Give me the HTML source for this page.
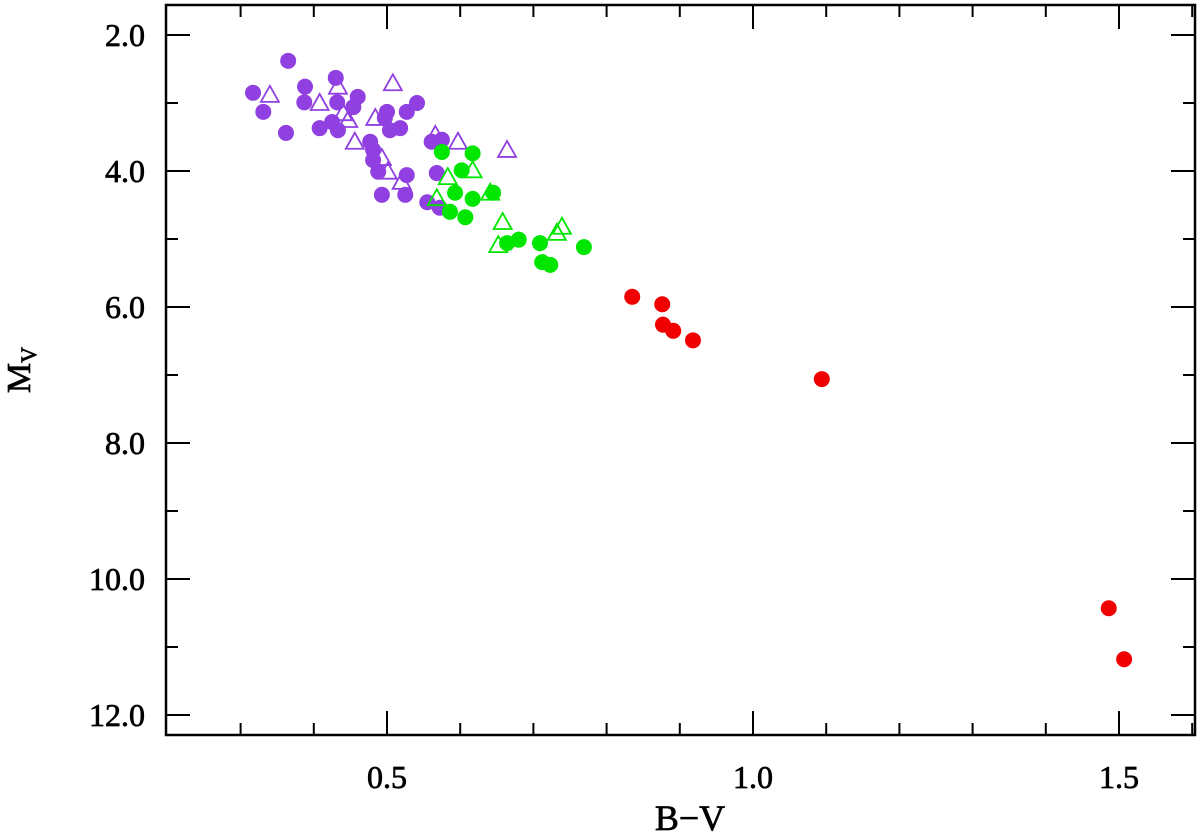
<!DOCTYPE html>
<html><head><meta charset="utf-8"><style>
html,body{margin:0;padding:0;background:#fff;}
svg{display:block;font-family:"Liberation Serif",serif;}
</style></head><body>
<svg id="chart" width="1200" height="833" viewBox="0 0 1200 833" xmlns="http://www.w3.org/2000/svg">
<g id="ticks"></g>
<g id="marks"></g>
<rect x="166" y="5" width="1029" height="730" fill="none" stroke="#000" stroke-width="2.5"/>
<g id="labels" stroke="#000" stroke-width="0.7"></g>
<text x="690" y="830" font-size="36" text-anchor="middle" stroke="#000" stroke-width="0.7">B−V</text>
<text transform="translate(30,370) rotate(-90)" font-size="34" text-anchor="middle" stroke="#000" stroke-width="0.7">M<tspan font-size="22" dy="6">V</tspan></text>
</svg>
<script>
const xTickLabels=["0.5","1.0","1.5"];
const yTickLabels=["2.0","4.0","6.0","8.0","10.0","12.0"];
const purpleCircBV=[0.365,0.317,0.331,0.362,0.388,0.387,0.430,0.432,0.460,0.454,0.408,0.425,0.433,0.500,0.497,0.527,0.541,0.504,0.518,0.477,0.481,0.481,0.488,0.527,0.493,0.525,0.555,0.561,0.575,0.568,0.572];
const purpleCircMV=[2.38,2.85,3.13,3.44,2.76,2.99,2.63,2.99,2.91,3.06,3.37,3.28,3.40,3.13,3.22,3.13,3.00,3.40,3.37,3.57,3.69,3.84,4.01,4.06,4.35,4.35,4.46,3.57,3.54,4.03,4.54];
const purpleTriBV=[0.340,0.408,0.433,0.440,0.447,0.456,0.508,0.484,0.493,0.501,0.520,0.566,0.597,0.664];
const purpleTriMV=[2.88,3.00,2.76,3.15,3.25,3.57,2.71,3.22,3.81,4.01,4.16,3.47,3.57,3.69];
const greenCircBV=[0.575,0.617,0.602,0.593,0.617,0.645,0.586,0.607,0.664,0.680,0.709,0.769,0.712,0.723];
const greenCircMV=[3.72,3.74,3.99,4.32,4.41,4.32,4.60,4.68,5.06,5.01,5.06,5.12,5.34,5.38];
const greenTriBV=[0.617,0.583,0.641,0.568,0.658,0.739,0.732,0.652];
const greenTriMV=[3.99,4.09,4.32,4.40,4.75,4.82,4.91,5.09];
const redCircBV=[0.835,0.876,0.877,0.891,0.918,1.094,1.486,1.507];
const redCircMV=[5.85,5.96,6.26,6.35,6.49,7.06,10.43,11.18];

const NS="http://www.w3.org/2000/svg";
const X0=166,X1=1195,Y0=5,Y1=735;
function xs(v){return 387+(v-0.5)*732;}
function ys(v){return 35+(v-2)*68;}
function mk(tag,attrs,parent){const e=document.createElementNS(NS,tag);for(const k in attrs)e.setAttribute(k,attrs[k]);parent.appendChild(e);return e;}
const ticks=document.getElementById('ticks'),marks=document.getElementById('marks'),labels=document.getElementById('labels');
for(let i=3;i<=16;i++){const v=i/10,x=xs(v),major=(i%5===0),L=major?24:12;
 const t1=mk('line',{x1:x,x2:x,y1:Y1,y2:Y1-L,stroke:'#000','stroke-width':2},ticks);
 
 
 const t2=mk('line',{x1:x,x2:x,y1:Y0,y2:Y0+L,stroke:'#000','stroke-width':2},ticks);
 
 
}
xTickLabels.forEach(s=>{const t=mk('text',{x:xs(parseFloat(s)),y:788,'font-size':32,'text-anchor':'middle'},labels);t.textContent=s;
 
 });
for(let v=2;v<=12;v++){const y=ys(v),major=(v%2===0),L=major?24:12;
 const t1=mk('line',{x1:X0,x2:X0+L,y1:y,y2:y,stroke:'#000','stroke-width':2},ticks);
 
 
 const t2=mk('line',{x1:X1,x2:X1-L,y1:y,y2:y,stroke:'#000','stroke-width':2},ticks);
 
 
}
yTickLabels.forEach(s=>{const t=mk('text',{x:145,y:ys(parseFloat(s))+11,'font-size':32,'text-anchor':'end'},labels);t.textContent=s;
 
 });
function circles(bv,mv,col,name){bv.forEach((b,i)=>{const c=mk('circle',{cx:xs(b),cy:ys(mv[i]),r:8,fill:col},marks);
 
 });}
function tris(bv,mv,col,name){bv.forEach((b,i)=>{const x=xs(b),y=ys(mv[i]);
 const p=mk('polygon',{points:`${x-9},${y+7} ${x+9},${y+7} ${x},${y-9}`,fill:'none',stroke:col,'stroke-width':1.8},marks);
 
 });}
circles(purpleCircBV,purpleCircMV,'#9040e0','purple-circle-point');
tris(purpleTriBV,purpleTriMV,'#9040e0','purple-triangle-point');
circles(greenCircBV,greenCircMV,'#00e600','green-circle-point');
tris(greenTriBV,greenTriMV,'#00e600','green-triangle-point');
circles(redCircBV,redCircMV,'#f00000','red-circle-point');
</script>
</body></html>
